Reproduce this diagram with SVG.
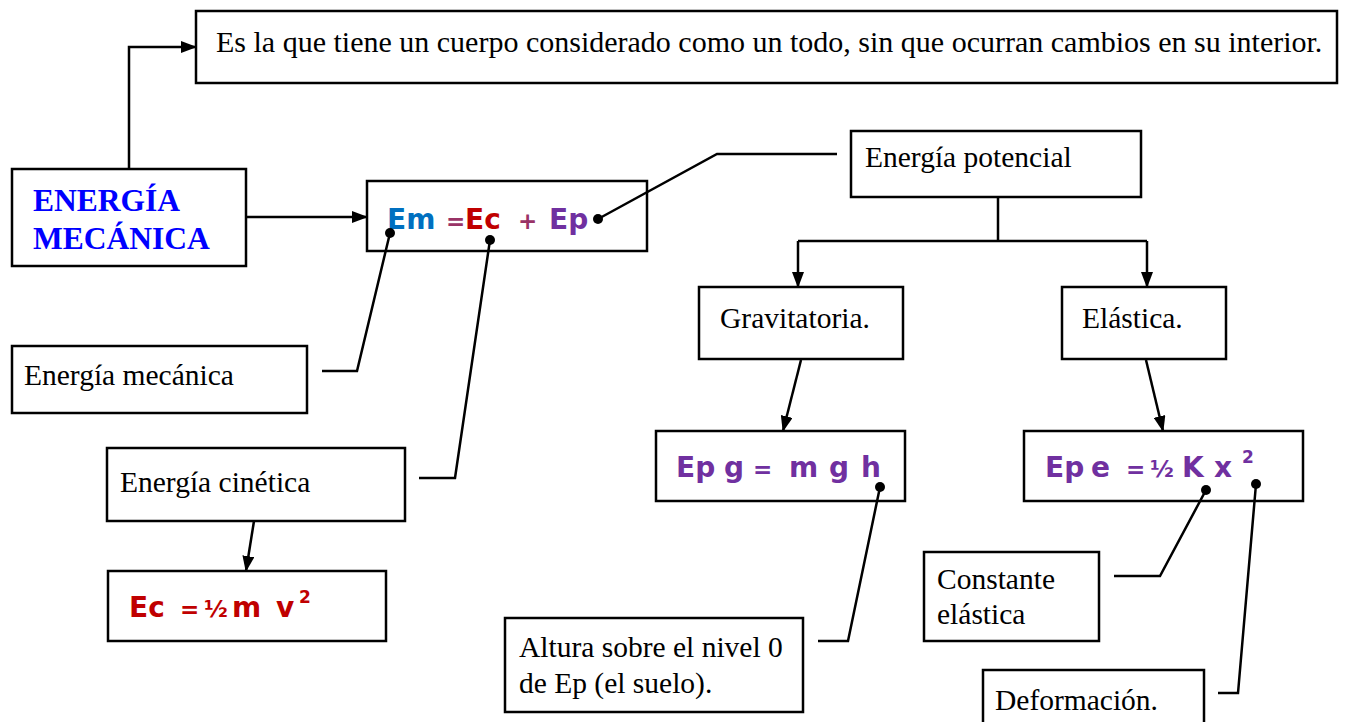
<svg xmlns="http://www.w3.org/2000/svg" width="1347" height="722" viewBox="0 0 1347 722">
<defs>
<marker id="ah" markerWidth="16" markerHeight="12" refX="15" refY="6" orient="auto" markerUnits="userSpaceOnUse">
<path d="M0,0 L16,6 L0,12 Z" fill="#000"/>
</marker>
<style>
.box{fill:#fff;stroke:#000;stroke-width:2.5}
.t{font-family:"Liberation Serif","Times New Roman",serif;font-size:29.5px;fill:#000}
.big{font-family:"Liberation Serif","Times New Roman",serif;font-size:31.5px;font-weight:bold;fill:#0000FF}
.f{font-family:"Comic Sans MS","DejaVu Sans",sans-serif;font-weight:bold;font-size:28px}
.op{font-size:23px}
.half{font-size:23px}
.sup{font-family:"Comic Sans MS","DejaVu Sans",sans-serif;font-weight:bold;font-size:17px}
.c{fill:none;stroke:#000;stroke-width:2.5}
.dot{fill:#000}
.blue{fill:#0070C0}.red{fill:#C00000}.pur{fill:#7030A0}.mar{fill:#993366}
</style>
</defs>
<rect width="1347" height="722" fill="#fff"/>
<g id="def">
<rect class="box" x="196" y="11" width="1141" height="72"/>
<text class="t" x="216" y="52" style="font-size:30px">Es la que tiene un cuerpo considerado como un todo, sin que ocurran cambios en su interior.</text>
</g>
<g id="energia-mecanica">
<rect class="box" x="12" y="169" width="234" height="97"/>
<text class="big" x="33" y="211">ENERGÍA</text>
<text class="big" x="33" y="249">MECÁNICA</text>
</g>
<g id="em-formula">
<rect class="box" x="367" y="181" width="280" height="70"/>
<text class="f" x="387" y="229"><tspan class="blue">Em</tspan><tspan class="mar op" x="446">=</tspan><tspan class="red" x="465">Ec</tspan><tspan class="mar op" x="518">+</tspan><tspan class="pur" x="549">Ep</tspan></text>
</g>
<g id="energia-potencial">
<rect class="box" x="851" y="131" width="290" height="66"/>
<text class="t" x="865" y="167">Energía potencial</text>
</g>
<g id="gravitatoria">
<rect class="box" x="699" y="287" width="204" height="72"/>
<text class="t" x="720" y="328">Gravitatoria.</text>
</g>
<g id="elastica">
<rect class="box" x="1062" y="287" width="164" height="72"/>
<text class="t" x="1082" y="328">Elástica.</text>
</g>
<g id="epg">
<rect class="box" x="656" y="431" width="249" height="70"/>
<text class="f pur" x="676" y="477">Ep<tspan x="724">g</tspan><tspan class="op" x="753">=</tspan><tspan x="789">m</tspan><tspan x="829">g</tspan><tspan x="861">h</tspan></text>
</g>
<g id="epe">
<rect class="box" x="1024" y="431" width="279" height="70"/>
<text class="f pur" x="1045" y="477">Ep<tspan x="1091">e</tspan><tspan class="op" x="1126">=</tspan><tspan class="half" x="1150">½</tspan><tspan x="1182">K</tspan><tspan x="1214">x</tspan></text>
<text class="sup pur" x="1242" y="463">2</text>
</g>
<g id="energia-mecanica-label">
<rect class="box" x="12" y="346" width="295" height="67"/>
<text class="t" x="24" y="385">Energía mecánica</text>
</g>
<g id="energia-cinetica">
<rect class="box" x="107" y="448" width="298" height="73"/>
<text class="t" x="120" y="492">Energía cinética</text>
</g>
<g id="ec-formula">
<rect class="box" x="108" y="571" width="278" height="70"/>
<text class="f red" x="129" y="617">Ec<tspan class="op" x="180">=</tspan><tspan class="half" x="204">½</tspan><tspan x="232">m</tspan><tspan x="276">v</tspan></text>
<text class="sup red" x="299" y="603">2</text>
</g>
<g id="altura">
<rect class="box" x="505" y="618" width="298" height="94"/>
<text class="t" x="519" y="657">Altura sobre el nivel 0</text>
<text class="t" x="519" y="693">de Ep (el suelo).</text>
</g>
<g id="constante">
<rect class="box" x="924" y="552" width="175" height="89"/>
<text class="t" x="937" y="589">Constante</text>
<text class="t" x="937" y="624">elástica</text>
</g>
<g id="deformacion">
<rect class="box" x="983" y="670" width="221" height="62"/>
<text class="t" x="995" y="710">Deformación.</text>
</g>
<g id="connectors">
<polyline class="c" points="129,169 129,47 196,47" marker-end="url(#ah)"/>
<line class="c" x1="246" y1="217" x2="367" y2="217" marker-end="url(#ah)"/>
<polyline class="c" points="390,233 357,371 322,371"/>
<polyline class="c" points="490,240 455,478 419,478"/>
<polyline class="c" points="598,219 717,154 837,154"/>
<line class="c" x1="998" y1="197" x2="998" y2="241"/>
<line class="c" x1="798" y1="241" x2="1147" y2="241"/>
<line class="c" x1="798" y1="241" x2="798" y2="287" marker-end="url(#ah)"/>
<line class="c" x1="1147" y1="241" x2="1147" y2="287" marker-end="url(#ah)"/>
<line class="c" x1="801" y1="360" x2="783" y2="431" marker-end="url(#ah)"/>
<line class="c" x1="1146" y1="360" x2="1163" y2="431" marker-end="url(#ah)"/>
<line class="c" x1="254" y1="521" x2="246" y2="571" marker-end="url(#ah)"/>
<polyline class="c" points="880,487 848,641 818,641"/>
<polyline class="c" points="1206,490 1160,576 1114,576"/>
<polyline class="c" points="1256,484 1238,693 1218,693"/>
<circle class="dot" cx="390" cy="233" r="5"/>
<circle class="dot" cx="490" cy="240" r="5"/>
<circle class="dot" cx="598" cy="219" r="5"/>
<circle class="dot" cx="880" cy="487" r="5"/>
<circle class="dot" cx="1206" cy="490" r="5"/>
<circle class="dot" cx="1256" cy="484" r="5"/>
</g>
</svg>
